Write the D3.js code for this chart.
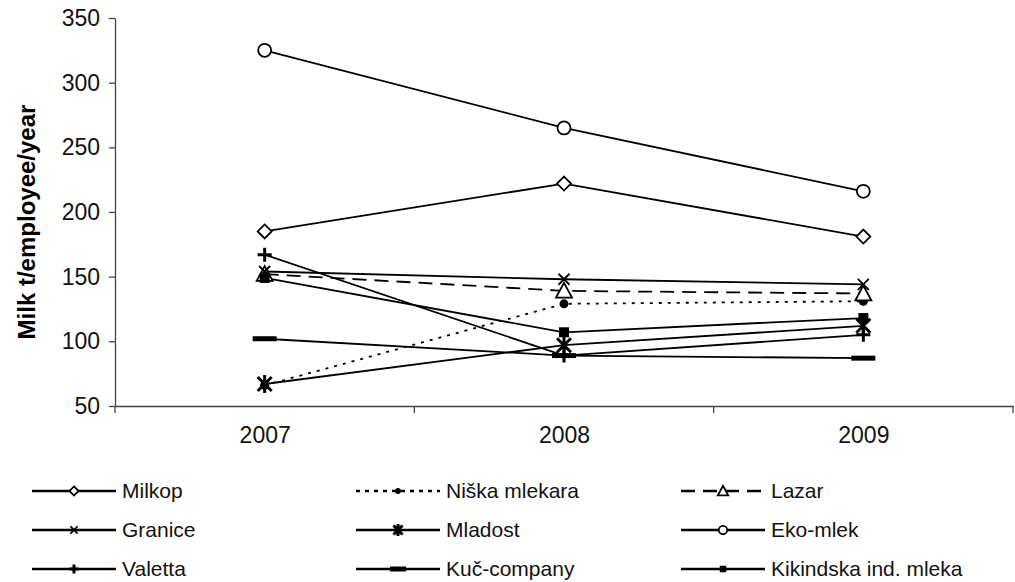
<!DOCTYPE html>
<html>
<head>
<meta charset="utf-8">
<script src="https://cdn.jsdelivr.net/npm/d3@7"></script>
<style>
  body { margin: 0; background: #fff; }
  svg { font-family: "Liberation Sans", Arial, sans-serif; }
</style>
</head>
<body>
<svg id="chart" width="1015" height="582"></svg>
<script>
// years on the x axis
var years = ["2007", "2008", "2009"];

// series
var milkop    = [185, 222, 181];
var niska     = [66, 129, 131];
var lazar     = [152, 139, 137];
var granice   = [154, 148, 144];
var mladost   = [67, 97, 112];
var ekoMlek   = [325, 265, 216];
var valetta   = [167, 89, 105];
var kuc       = [102, 89, 87];
var kikindska = [149, 107, 118];

var yTicks = [50, 100, 150, 200, 250, 300, 350];

var series = [
  {name: "Milkop", values: milkop, marker: "diamond", dash: null},
  {name: "Niška mlekara", values: niska, marker: "dot", dash: "3,6"},
  {name: "Lazar", values: lazar, marker: "triangle", dash: "14,8"},
  {name: "Granice", values: granice, marker: "x", dash: null},
  {name: "Mladost", values: mladost, marker: "asterisk", dash: null},
  {name: "Eko-mlek", values: ekoMlek, marker: "circle", dash: null},
  {name: "Valetta", values: valetta, marker: "plus", dash: null},
  {name: "Kuč-company", values: kuc, marker: "bar", dash: null},
  {name: "Kikindska ind. mleka", values: kikindska, marker: "square", dash: null}
];

var margin = {top: 18, right: 2, bottom: 176, left: 115};
var width = 1015, height = 582;

var x = d3.scalePoint()
    .domain(years)
    .range([margin.left, width - margin.right])
    .padding(0.5);

var y = d3.scaleLinear()
    .domain([50, 350])
    .range([height - margin.bottom, margin.top]);

var svg = d3.select("#chart");

// draws one marker at (0,0) inside g, s = scale factor
function marker(g, type, s) {
  if (type == "diamond") {
    var r = 7 * s;
    g.append("path").attr("d", `M0,${-r}L${r},0L0,${r}L${-r},0Z`)
      .attr("fill", "#fff").attr("stroke", "#000").attr("stroke-width", 1.8);
  } else if (type == "dot") {
    g.append("circle").attr("r", 4.5 * s).attr("fill", "#000");
  } else if (type == "triangle") {
    var r = 8 * s;
    g.append("path").attr("d", `M0,${-r}L${r},${r * 0.85}L${-r},${r * 0.85}Z`)
      .attr("fill", "#fff").attr("stroke", "#000").attr("stroke-width", 1.8);
  } else if (type == "x") {
    var r = 5.5 * s;
    g.append("path").attr("d", `M${-r},${-r}L${r},${r}M${-r},${r}L${r},${-r}`)
      .attr("stroke", "#000").attr("stroke-width", 1.8);
  } else if (type == "asterisk") {
    var r = 7 * s;
    g.append("path").attr("d", `M${-r},${-r}L${r},${r}M${-r},${r}L${r},${-r}M0,${-r * 1.3}L0,${r * 1.3}`)
      .attr("stroke", "#000").attr("stroke-width", 3);
  } else if (type == "circle") {
    g.append("circle").attr("r", 6.5 * s)
      .attr("fill", "#fff").attr("stroke", "#000").attr("stroke-width", 1.8);
  } else if (type == "plus") {
    var r = 7 * s;
    g.append("path").attr("d", `M${-r},0L${r},0M0,${-r}L0,${r}`)
      .attr("stroke", "#000").attr("stroke-width", 3);
  } else if (type == "bar") {
    g.append("rect").attr("x", -12 * s).attr("y", -2.5 * s)
      .attr("width", 24 * s).attr("height", 5 * s).attr("fill", "#000");
  } else if (type == "square") {
    var r = 5 * s;
    g.append("rect").attr("x", -r).attr("y", -r)
      .attr("width", 2 * r).attr("height", 2 * r).attr("fill", "#000");
  }
}

// axes
var yAxis = g => g
    .attr("transform", `translate(${margin.left},0)`)
    .call(d3.axisLeft(y).tickValues(yTicks).tickSize(6).tickPadding(9).tickSizeOuter(0))
    .call(g => g.selectAll("text").attr("font-size", 23).attr("fill", "#111"))
    .call(g => g.selectAll("line, path").attr("stroke", "#444").attr("stroke-width", 1.3));

var xAxis = g => g
    .attr("transform", `translate(0,${y(50)})`)
    .call(d3.axisBottom(x).tickSize(0).tickPadding(21).tickSizeOuter(0))
    .call(g => g.selectAll("text").attr("font-size", 23).attr("fill", "#111"))
    .call(g => g.select(".domain").attr("stroke", "#444").attr("stroke-width", 1.3));

svg.append("g").call(yAxis);
svg.append("g").call(xAxis);

// category boundary ticks on x axis
var bounds = years.map(d => x(d) - x.step() / 2).concat([x(years[years.length - 1]) + x.step() / 2]);
svg.append("g").selectAll("line").data(bounds).enter().append("line")
    .attr("x1", d => d).attr("x2", d => d)
    .attr("y1", y(50)).attr("y2", y(50) + 7)
    .attr("stroke", "#444").attr("stroke-width", 1.3);

svg.append("text")
    .attr("transform", `translate(35,${(y(50) + y(350)) / 2 + 10}) rotate(-90)`)
    .attr("text-anchor", "middle")
    .attr("font-size", 24).attr("font-weight", "bold")
    .text("Milk t/employee/year");

// lines
var line = d3.line()
    .x((d, i) => x(years[i]))
    .y(d => y(d));

svg.append("g").selectAll("path").data(series).enter().append("path")
    .attr("d", d => line(d.values))
    .attr("fill", "none")
    .attr("stroke", "#000")
    .attr("stroke-width", 1.8)
    .attr("stroke-dasharray", d => d.dash);

// markers
series.forEach(function(s) {
  s.values.forEach(function(v, i) {
    var g = svg.append("g").attr("transform", `translate(${x(years[i])},${y(v)})`);
    marker(g, s.marker, 1);
  });
});

// legend
var legCols = [32, 356, 681];
var legRows = [491, 530, 569];
series.forEach(function(s, i) {
  var lx = legCols[i % 3], ly = legRows[Math.floor(i / 3)];
  var g = svg.append("g").attr("transform", `translate(${lx},${ly})`);
  g.append("line").attr("x1", 0).attr("x2", 84).attr("y1", 0).attr("y2", 0)
    .attr("stroke", "#000").attr("stroke-width", 2.5)
    .attr("stroke-dasharray", s.dash == "3,6" ? "4,5" : s.dash);
  var m = g.append("g").attr("transform", "translate(42,0)");
  if (s.marker == "bar") m.append("rect").attr("x", -8).attr("y", -2.5).attr("width", 16).attr("height", 5).attr("fill", "#000");
  else marker(m, s.marker, 0.65);
  g.append("text").attr("x", 90).attr("y", 7)
    .attr("font-size", 21).attr("fill", "#111")
    .text(s.name);
});
</script>
</body>
</html>
